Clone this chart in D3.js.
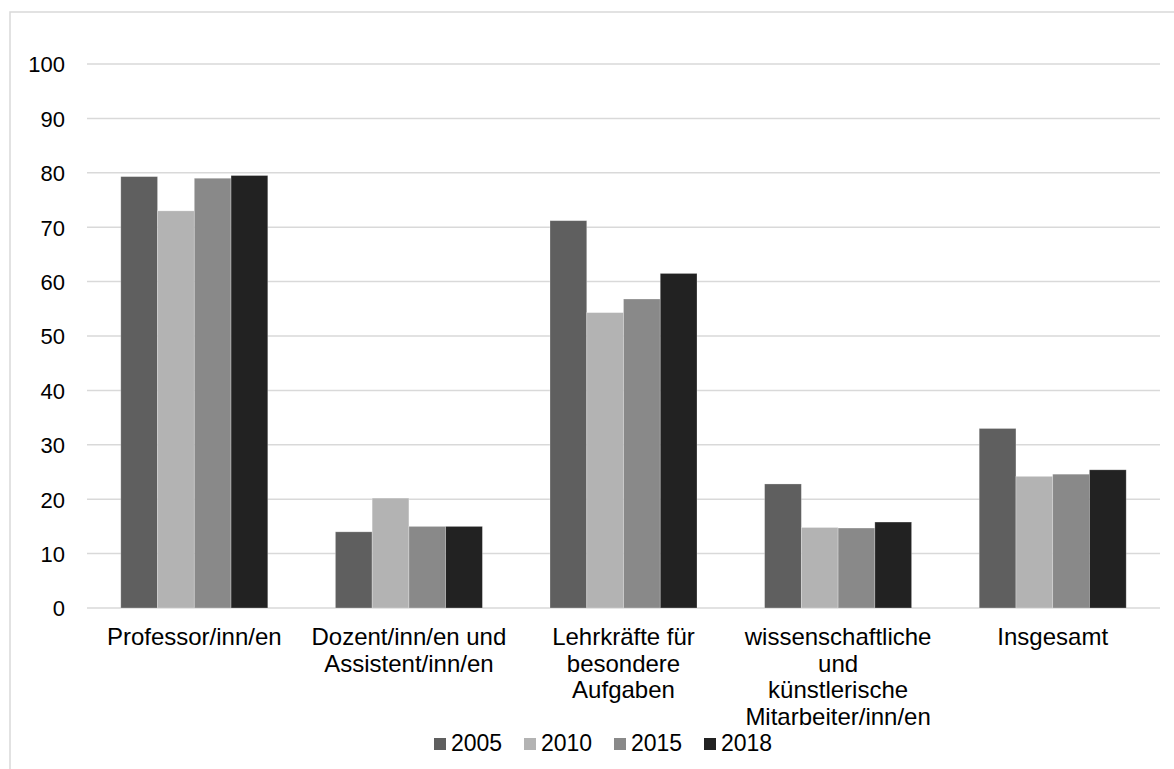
<!DOCTYPE html>
<html>
<head>
<meta charset="utf-8">
<script src="https://cdn.jsdelivr.net/npm/d3@7"></script>
<style>
  html, body { margin: 0; padding: 0; background: #ffffff; }
  svg { display: block; font-family: "Liberation Sans", Arial, sans-serif; }
</style>
</head>
<body>
<svg id="chart" width="1174" height="769"></svg>
<script>
// Personalgruppen (x-axis categories), each label split into lines
const categories = [
  ["Professor/inn/en"],
  ["Dozent/inn/en und", "Assistent/inn/en"],
  ["Lehrkräfte für", "besondere", "Aufgaben"],
  ["wissenschaftliche", "und", "künstlerische", "Mitarbeiter/inn/en"],
  ["Insgesamt"]
];
const years = ["2005", "2010", "2015", "2018"];
const values2005 = [79.3, 14.0, 71.2, 22.8, 33.0];
const values2010 = [73.0, 20.2, 54.3, 14.8, 24.2];
const values2015 = [79.0, 15.0, 56.8, 14.7, 24.6];
const values2018 = [79.5, 15.0, 61.5, 15.8, 25.4];
const yTicks = [0, 10, 20, 30, 40, 50, 60, 70, 80, 90, 100];
const colors = ["#5f5f5f", "#b3b3b3", "#898989", "#222222"];

const series = [values2005, values2010, values2015, values2018];

const svg = d3.select("#chart");
const plot = { left: 87, right: 1160, top: 64, bottom: 608 };

// outer chart frame (runs off the right and bottom edge)
svg.append("rect")
  .attr("x", 10).attr("y", 12)
  .attr("width", 1200).attr("height", 800)
  .attr("fill", "none")
  .attr("stroke", "#d9d9d9")
  .attr("stroke-width", 1.5);

const y = d3.scaleLinear().domain([0, 100]).range([plot.bottom, plot.top]);
const x0 = d3.scaleBand()
  .domain(d3.range(categories.length))
  .range([plot.left, plot.right])
  .paddingInner(0.315)
  .paddingOuter(0.1575);
const x1 = d3.scaleBand()
  .domain(d3.range(years.length))
  .range([0, x0.bandwidth()]);

// horizontal gridlines
svg.append("g")
  .selectAll("line")
  .data(yTicks)
  .join("line")
  .attr("x1", plot.left).attr("x2", plot.right)
  .attr("y1", d => y(d)).attr("y2", d => y(d))
  .attr("stroke", "#d9d9d9")
  .attr("stroke-width", 1.5);

// y-axis labels
const yAxis = d3.axisLeft(y).tickValues(yTicks).tickSize(0).tickPadding(0);
const yg = svg.append("g")
  .attr("transform", `translate(${65},0)`)
  .call(yAxis);
yg.select(".domain").remove();
yg.selectAll("text")
  .attr("font-family", "Liberation Sans, Arial, sans-serif")
  .attr("font-size", 22)
  .attr("fill", "#000000")
  .attr("dy", "0.36em");

// bars
const groups = svg.append("g")
  .selectAll("g")
  .data(categories.map((c, i) => i))
  .join("g")
  .attr("transform", i => `translate(${x0(i)},0)`);

groups.selectAll("rect")
  .data(i => series.map((s, k) => ({ k, v: s[i] })))
  .join("rect")
  .attr("x", d => x1(d.k))
  .attr("width", x1.bandwidth())
  .attr("y", d => y(d.v))
  .attr("height", d => y(0) - y(d.v))
  .attr("fill", d => colors[d.k])
  .attr("stroke", "#ffffff")
  .attr("stroke-opacity", 0.35)
  .attr("stroke-width", 0.75);

// category labels
const labels = svg.append("g")
  .selectAll("text")
  .data(categories.map((c, i) => ({ c, i })))
  .join("text")
  .attr("text-anchor", "middle")
  .attr("font-size", 24)
  .attr("fill", "#000000")
  .attr("x", d => x0(d.i) + x0.bandwidth() / 2)
  .attr("y", 645);
labels.selectAll("tspan")
  .data(d => d.c.map((line, j) => ({ line, j, cx: x0(d.i) + x0.bandwidth() / 2 })))
  .join("tspan")
  .attr("x", d => d.cx)
  .attr("dy", d => d.j === 0 ? 0 : 26.5)
  .text(d => d.line);

// legend
const legendX = [434, 524, 614, 704];
const legend = svg.append("g")
  .selectAll("g")
  .data(years.map((yr, k) => ({ yr, k })))
  .join("g")
  .attr("transform", d => `translate(${legendX[d.k]},0)`);
legend.append("rect")
  .attr("x", 0).attr("y", 738)
  .attr("width", 12).attr("height", 12)
  .attr("fill", d => colors[d.k]);
legend.append("text")
  .attr("x", 17).attr("y", 751)
  .attr("font-size", 23)
  .attr("fill", "#000000")
  .text(d => d.yr);
</script>
</body>
</html>
